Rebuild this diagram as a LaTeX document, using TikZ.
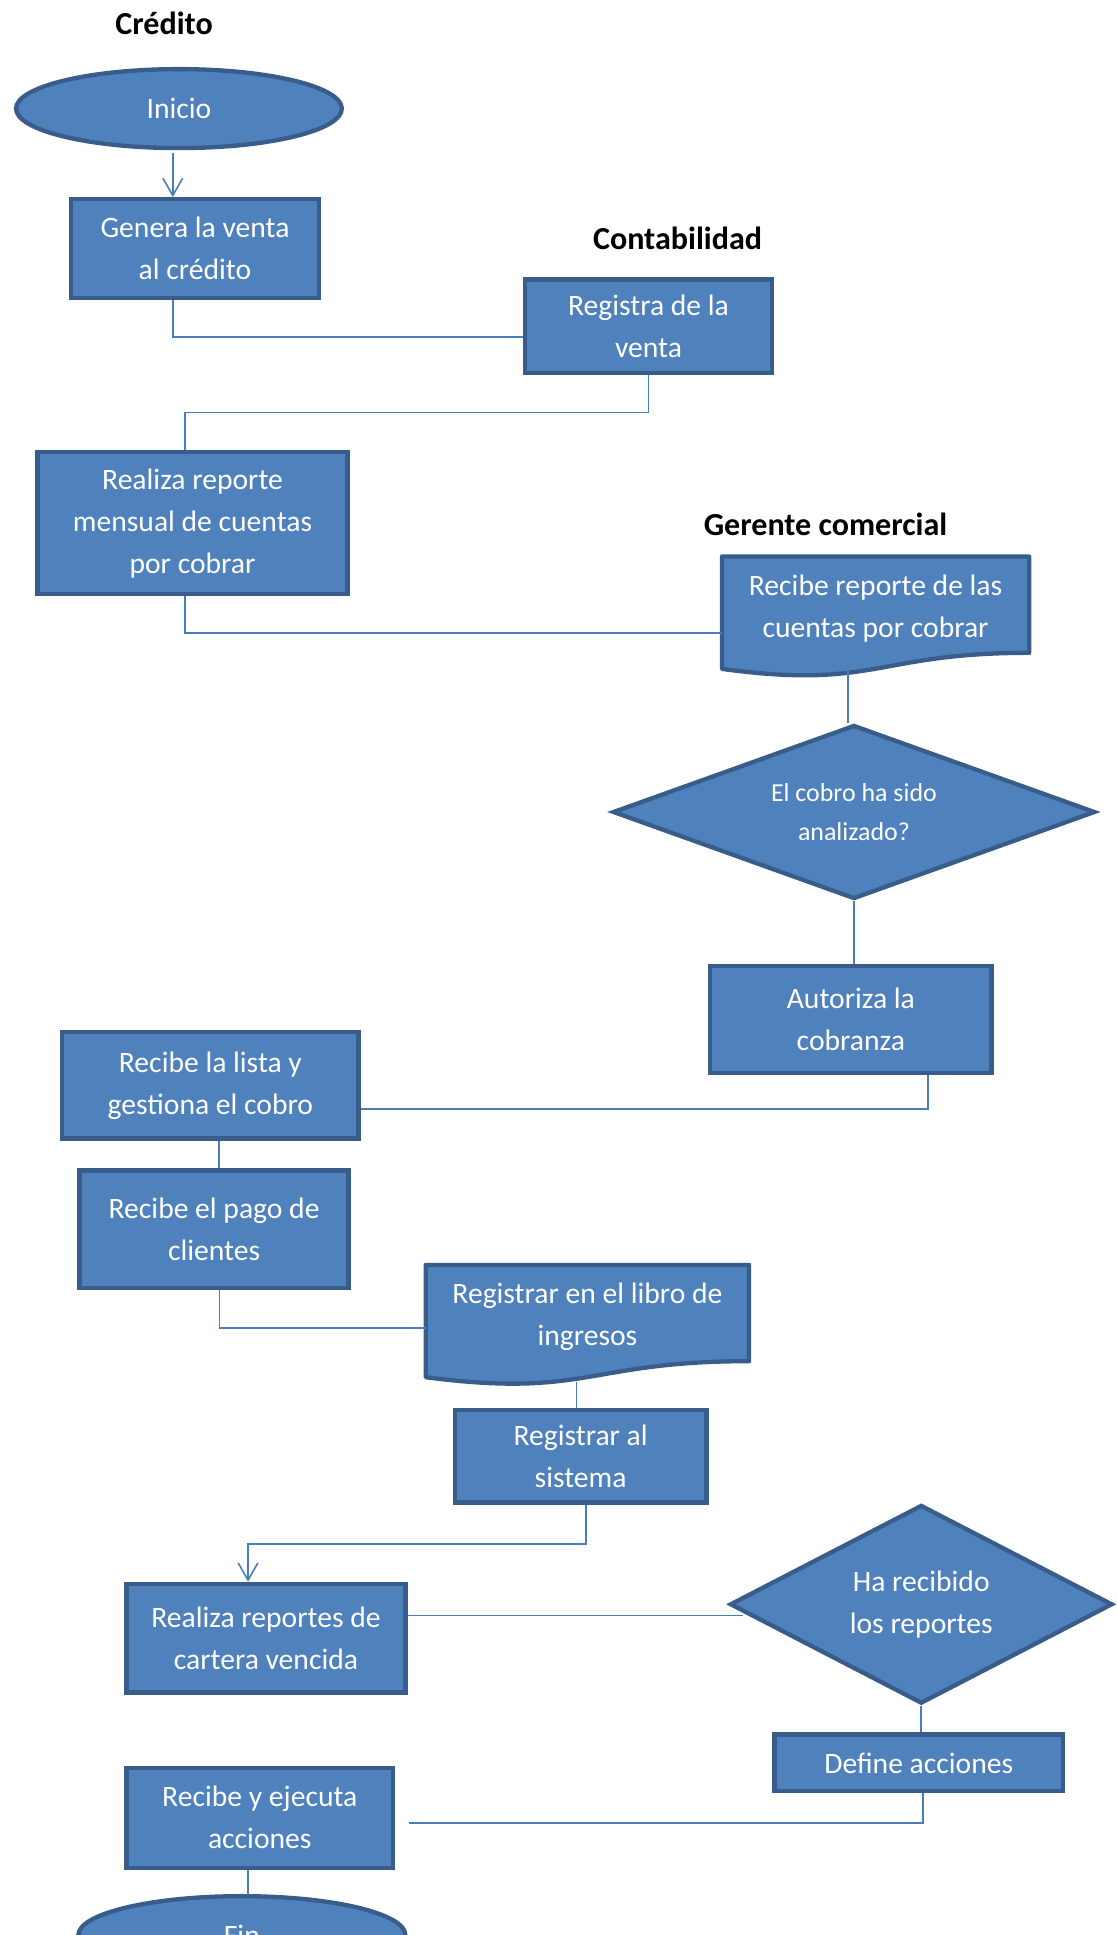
\documentclass[tikz,border=0pt]{standalone}
\usepackage{fontspec}
\setmainfont{Carlito}
\usetikzlibrary{shapes.geometric, positioning, arrows.meta}
\definecolor{boxfill}{HTML}{4F81BD}
\definecolor{boxdraw}{HTML}{385D8A}
\definecolor{linkcol}{HTML}{4A7EBB}
\tikzset{
  proc/.style={rectangle, draw=boxdraw, fill=boxfill, line width=3.5pt, text=white, align=center, inner sep=0pt, font=\fontsize{24}{34}\selectfont},
  term/.style={ellipse, draw=boxdraw, fill=boxfill, line width=3.5pt, text=white, inner sep=0pt, font=\fontsize{24}{34}\selectfont},
  decision/.style={diamond, draw=boxdraw, fill=boxfill, line width=3.5pt, text=white, align=center, inner sep=0pt},
  docshape/.style={draw=boxdraw, fill=boxfill, line width=3.5pt, line join=round},
  doctext/.style={rectangle, text=white, align=center, inner sep=0pt, font=\fontsize{24}{34}\selectfont},
  lane/.style={font=\fontsize{26}{30}\selectfont\bfseries},
  link/.style={draw=linkcol, line width=1.3pt}
}

\begin{document}
\begin{tikzpicture}[x=1pt, y=-1pt, >={Straight Barb[length=14pt,width=16pt]}]
    \useasboundingbox (0,0) rectangle (905,1568);
    \clip (0,0) rectangle (905,1568);

    \node[lane] (credito) at (133,19) {Crédito};
    \node[lane] (conta) at (549,193) {Contabilidad};
    \node[lane] (gerente) at (669,425) {Gerente comercial};

    \node[term, minimum width=264pt, minimum height=64pt] (inicio) at (145,88) {Inicio};
    \node[proc, minimum width=201pt, minimum height=80pt] (genera) at (158,201.5) {Genera la venta\\al crédito};
    \node[proc, minimum width=200pt, minimum height=76pt] (registra) at (525.5,264.5) {Registra de la\\venta};
    \node[proc, minimum width=251pt, minimum height=115pt] (reporte) at (156,424) {Realiza reporte\\mensual de cuentas\\por cobrar};

    \draw[docshape] (585,451) -- (834,451) -- (834,529) .. controls (709.5,529) and (709.5,559) .. (585,542) -- cycle;
    \node[doctext, minimum width=249pt, minimum height=80pt] (recibe) at (709.5,493) {Recibe reporte de las\\cuentas por cobrar};

    \node[decision, aspect=2.77, minimum width=391pt, minimum height=141pt, font=\fontsize{21}{31}\selectfont] (cobro) at (692,658) {El cobro ha sido\\analizado?};
    \node[proc, minimum width=228pt, minimum height=87pt] (autoriza) at (689.5,826) {Autoriza la\\cobranza};
    \node[proc, minimum width=240pt, minimum height=86pt] (lista) at (170.5,879.5) {Recibe la lista y\\gestiona el cobro};
    \node[proc, minimum width=218pt, minimum height=95pt] (pago) at (173.5,996) {Recibe el pago de\\clientes};

    \draw[docshape] (345,1025) -- (607,1025) -- (607,1103) .. controls (476,1103) and (476,1133) .. (345,1116) -- cycle;
    \node[doctext, minimum width=262pt, minimum height=80pt] (libro) at (476,1067) {Registrar en el libro de\\ingresos};

    \node[proc, minimum width=204pt, minimum height=75pt] (sistema) at (470.5,1180) {Registrar al\\sistema};
    \node[proc, minimum width=226pt, minimum height=88pt] (cartera) at (215.5,1327.5) {Realiza reportes de\\cartera vencida};
    \node[decision, aspect=1.93, minimum width=310pt, minimum height=161pt, font=\fontsize{24}{34}\selectfont] (recibido) at (746.5,1300) {Ha recibido\\los reportes};
    \node[proc, minimum width=234pt, minimum height=46pt] (define) at (744.5,1428.5) {Define acciones};
    \node[proc, minimum width=216pt, minimum height=81pt] (ejecuta) at (210.5,1473) {Recibe y ejecuta\\acciones};
    \node[term, minimum width=265pt, minimum height=63pt] (fin) at (196,1568) {Fin};

    \draw[link, ->] ([xshift=-5pt, yshift=-2pt]inicio.south) -- ([xshift=-18pt]genera.north);
    \draw[link] ([xshift=-18pt]genera.south) |- ([yshift=-8.5pt]registra.west);
    \draw[link] (registra.south) -- ++(0,30) -| ([xshift=-6pt]reporte.north);
    \draw[link] ([xshift=-6pt]reporte.south) |- ([yshift=-20pt]recibe.west);
    \draw[link] ([xshift=-5pt]cobro.north) -- ++(0,-42);
    \draw[link] (cobro.south) -- (cobro.south |- autoriza.north);
    \draw[link] ([xshift=62.5pt]autoriza.south) |- ([yshift=-19pt]lista.east);
    \draw[link] ([xshift=7pt]lista.south) -- ([xshift=7pt]lista.south |- pago.north);
    \draw[link] ([xshift=4.5pt]pago.south) |- ([yshift=-9pt]libro.west);
    \draw[link] ([xshift=-3.5pt]sistema.north) -- ++(0,-21);
    \draw[link, ->] ([xshift=4.5pt]sistema.south) -- ++(0,32) -| ([xshift=-14.5pt]cartera.north);
    \draw[link] ([yshift=18.5pt]cartera.east) -- ++(272,0);
    \draw[link] (recibido.south) -- (recibido.south |- define.north);
    \draw[link] ([xshift=3.5pt]define.south) |- ([xshift=11.5pt, yshift=-4pt]ejecuta.east);
    \draw[link] ([xshift=-9.5pt]ejecuta.south) -- ++(0,20);
\end{tikzpicture}
\end{document}
